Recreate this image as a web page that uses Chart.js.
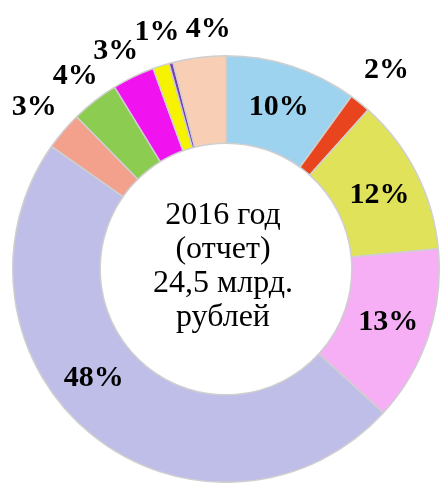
<!DOCTYPE html>
<html>
<head>
<meta charset="utf-8">
<script src="https://cdn.jsdelivr.net/npm/chart.js@4/dist/chart.umd.min.js"></script>
<style>
html,body{margin:0;padding:0;background:#fff;}
#wrap{position:relative;width:441px;height:483px;}
</style>
</head>
<body>
<div id="wrap"><canvas id="c" width="441" height="483"></canvas></div>
<script>
const categories = ['A','B','C','D','E','F','G','H','I','J','K'];
const values = [10, 1.6, 11.9, 13.3, 48, 2.9, 3.6, 3.2, 1.25, 0.3, 4];
const percentLabels = ['10%','2%','12%','13%','48%','3%','4%','3%','1%','','4%'];
const colors = ['#9ed3f0','#e8441e','#e0e35a','#f6aef4','#bfbee8','#f3a08c','#8ccc50','#f012ef','#f6f200','#7a3cb0','#f8cfb4'];
const centerLines = ['2016 год','(отчет)','24,5 млрд.','рублей'];
// label placement: [radius factor of outer radius, angle shift in degrees]
const labelPlace = [[0.8,0],[1.2,0],[0.8,1],[0.8,-0.5],[0.8,12],[1.18,0],[1.15,0],[1.15,-1],[1.16,1.5],[1,0],[1.13,3]];

const labelPlugin = {
  id: 'labels',
  afterDatasetsDraw(chart) {
    const ctx = chart.ctx;
    const meta = chart.getDatasetMeta(0);
    ctx.save();
    ctx.fillStyle = '#000';
    ctx.textAlign = 'center';
    ctx.textBaseline = 'middle';
    ctx.font = 'bold 30px "Liberation Serif", "Times New Roman", serif';
    meta.data.forEach((arc, i) => {
      const t = percentLabels[i];
      if (!t) return;
      const p = labelPlace[i];
      const mid = (arc.startAngle + arc.endAngle) / 2 + p[1] * Math.PI / 180;
      const r = arc.outerRadius * p[0];
      ctx.fillText(t, arc.x + Math.cos(mid) * r, arc.y + Math.sin(mid) * r + 1);
    });
    // center text
    const a = meta.data[0];
    ctx.font = '32px "Liberation Serif", "Times New Roman", serif';
    ctx.textBaseline = 'alphabetic';
    const lh = 34;
    const first = a.y - 45;
    centerLines.forEach((l, i) => ctx.fillText(l, a.x - 3, first + i * lh));
    ctx.restore();
  }
};

new Chart(document.getElementById('c'), {
  type: 'doughnut',
  data: {
    labels: categories,
    datasets: [{
      data: values,
      backgroundColor: colors,
      borderColor: '#cfcfcf',
      borderWidth: 1.5
    }]
  },
  options: {
    responsive: false,
    animation: false,
    cutout: '59%',
    rotation: 0,
    layout: { padding: { top: 55, bottom: 0, left: 12, right: 1 } },
    plugins: { legend: { display: false }, tooltip: { enabled: false } }
  },
  plugins: [labelPlugin]
});
</script>
</body>
</html>
